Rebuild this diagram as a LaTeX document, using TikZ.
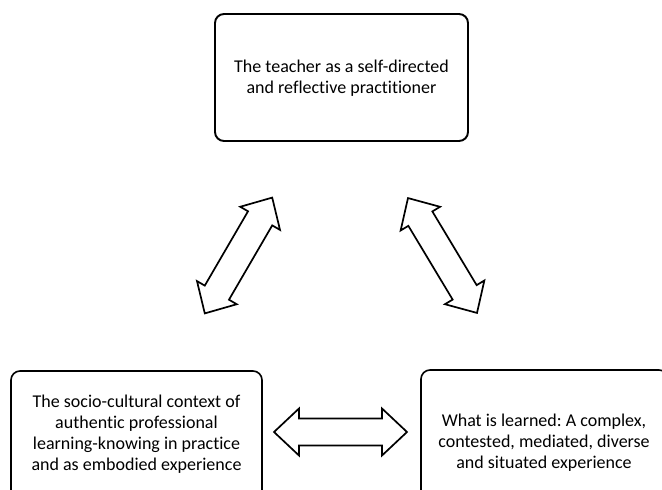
\documentclass[tikz,border=0pt]{standalone}
\usepackage{fontspec}
\setmainfont{Carlito}[Ligatures={NoCommon}]
\frenchspacing
\begin{document}
\begin{tikzpicture}[x=1pt,y=-1pt,
  box/.style={draw=black, rounded corners=9pt, line width=1.6pt, fill=white},
  boxtext/.style={align=center, font=\fontsize{18}{21}\selectfont},
  blockarrow/.style={draw=black, line width=1.7pt, line join=miter, fill=white}]
\useasboundingbox (0,0) rectangle (662,490);
\clip (0,0) rectangle (662,490);
% boxes
\draw[box, line width=1.9pt] (215,14) rectangle (468,141);
\draw[box] (11,371) rectangle (262,520);
\draw[box] (421,370) rectangle (668,520);
\node[boxtext] (top) at (341.5,78) {The teacher as a self-directed\\and reflective practitioner};
\node[boxtext] (left) at (136.5,434) {The socio-cultural context of\\authentic professional\\learning-knowing in practice\\and as embodied experience};
\node[boxtext] (right) at (544,443) {What is learned: A complex,\\contested, mediated, diverse\\and situated experience};
% block double arrows
\def\dblarrow#1#2#3#4{% L, h, W, w
  \draw[blockarrow] (-#1,0) -- (-#1+#2,#3) -- (-#1+#2,#4) -- (#1-#2,#4) -- (#1-#2,#3) -- (#1,0)
    -- (#1-#2,-#3) -- (#1-#2,-#4) -- (-#1+#2,-#4) -- (-#1+#2,-#3) -- cycle;}
\begin{scope}[shift={(340.5,432)}]
  \dblarrow{66.5}{25}{23.5}{13.5}
\end{scope}
\begin{scope}[shift={(238.5,255.5)}, rotate=59.8]
  \dblarrow{67}{24}{23}{14}
\end{scope}
\begin{scope}[shift={(442.5,255.5)}, rotate=121]
  \dblarrow{67}{24}{23}{14}
\end{scope}
\end{tikzpicture}
\end{document}
